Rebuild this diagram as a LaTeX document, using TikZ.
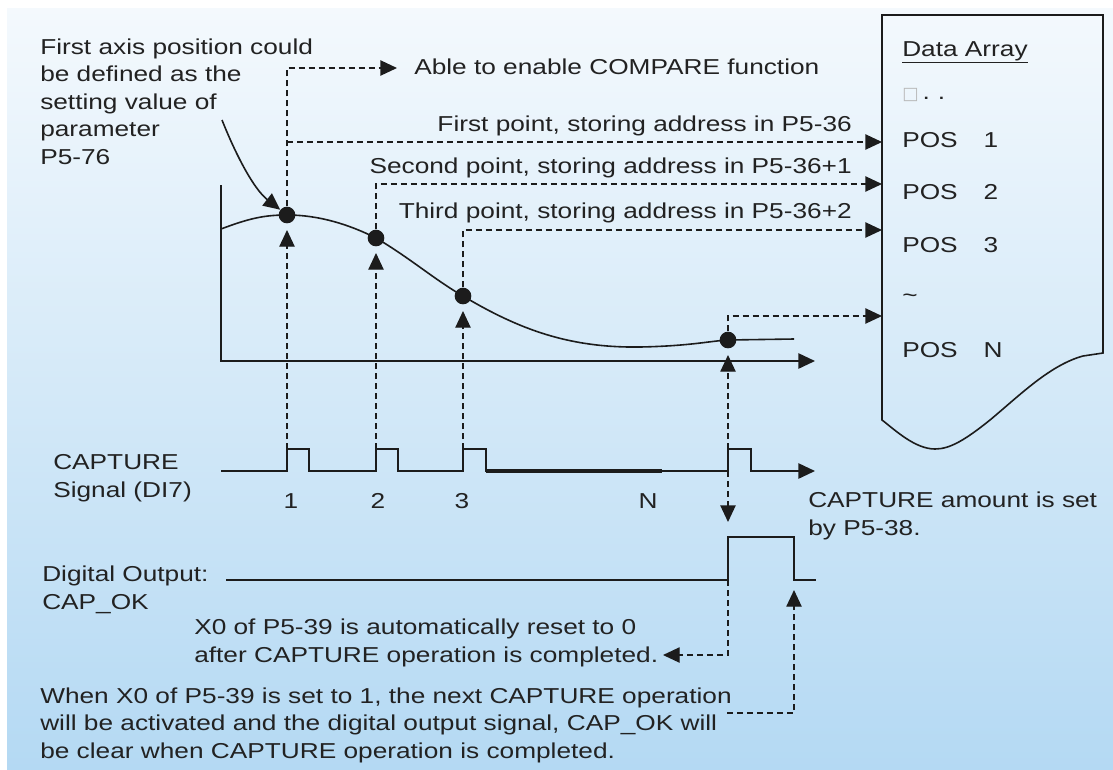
\documentclass[tikz,border=0pt]{standalone}
\usepackage{fontspec}
\setmainfont{Liberation Sans}[FakeStretch=1.215]
\newfontfamily\symf{DejaVu Sans}
\usetikzlibrary{arrows.meta}
\definecolor{ink}{RGB}{28,28,28}
\definecolor{txt}{RGB}{34,34,34}
\definecolor{bgtop}{RGB}{244,249,253}
\definecolor{bgbot}{RGB}{180,217,243}
\newcommand{\mytextsize}{\fontsize{16.2pt}{20.6pt}\selectfont}
\begin{document}
\begin{tikzpicture}[x=0.75pt,y=-0.75pt,
  lbl/.style={text=txt, inner sep=0pt, font=\mytextsize},
  solidline/.style={draw=ink, line width=1.2pt},
  dsh/.style={draw=ink, line width=1pt, dash pattern=on 4.5pt off 3pt},
  arr/.style={-{Triangle[length=12.5pt,width=11.5pt]}},
  dot/.style={circle, fill=ink, inner sep=0pt, minimum size=12.5pt}]
\useasboundingbox (0,0) rectangle (1113,769);
\fill[white] (0,0) rectangle (1113,769);
\shade[top color=bgtop, bottom color=bgbot] (7,8) rectangle (1113,769);

% ---------- texts (multi-line nodes: base = last line) ----------
\node[lbl, anchor=base west, align=left] (note1) at (40,164) {First axis position could\\be defined as the\\setting value of\\parameter\\P5-76};
\node[lbl, anchor=base west] (able) at (414,74) {Able to enable COMPARE function};
\node[lbl, anchor=base east] (fp) at (852,131) {First point, storing address in P5-36};
\node[lbl, anchor=base east] (sp) at (852,173) {Second point, storing address in P5-36+1};
\node[lbl, anchor=base east] (tp) at (852,218) {Third point, storing address in P5-36+2};

\node[lbl, anchor=base west] (da) at (902,56) {\underline{Data Array}};
\node[lbl, anchor=base west] (sq) at (902,99) {{\symf\fontsize{13pt}{13pt}\selectfont\color{gray!55}□}\hspace{3pt}.\hspace{6pt}.};
\node[lbl, anchor=base west] (pos1) at (902,147) {POS\hspace{19.5pt}1};
\node[lbl, anchor=base west] (pos2) at (902,199) {POS\hspace{19.5pt}2};
\node[lbl, anchor=base west] (pos3) at (902,252) {POS\hspace{19.5pt}3};
\node[lbl, anchor=base west] (tld) at (902,302) {\textasciitilde};
\node[lbl, anchor=base west] (posN) at (902,357) {POS\hspace{19.5pt}N};

\node[lbl, anchor=base west, align=left] (caplbl) at (53,497) {CAPTURE\\Signal (DI7)};
\node[lbl, anchor=base] (n1) at (291,508) {1};
\node[lbl, anchor=base] (n2) at (378,508) {2};
\node[lbl, anchor=base] (n3) at (462,508) {3};
\node[lbl, anchor=base] (nN) at (648,508) {N};
\node[lbl, anchor=base west, align=left] (amt) at (808,535) {CAPTURE amount is set\\by P5-38.};
\node[lbl, anchor=base west, align=left] (dolbl) at (42,609) {Digital Output:\\CAP\_OK};
\node[lbl, anchor=base west, align=left] (reset) at (194,662) {X0 of P5-39 is automatically reset to 0\\after CAPTURE operation is completed.};
\node[lbl, anchor=base west, align=left] (when) at (40,758) {When X0 of P5-39 is set to 1, the next CAPTURE operation\\will be activated and the digital output signal, CAP\_OK will\\be clear when CAPTURE operation is completed.};

% ---------- data array box ----------
\draw[solidline] (882,15) -- (1103,15) -- (1103,353) -- (1083,356)
  .. controls (1050,365) and (1020,395) .. (990,420)
  .. controls (965,440) and (950,449) .. (935,449)
  .. controls (915,449) and (895,430) .. (882,420) -- cycle;

% ---------- axes and curve ----------
\coordinate (ax0) at (221,185);
\coordinate (axO) at (221,361);
\coordinate (axX) at (815,361);
\draw[solidline, arr] (ax0) -- (axO) -- (axX);

\node[dot] (p1) at (287,215) {};
\node[dot] (p2) at (376,238) {};
\node[dot] (p3) at (463,296) {};
\node[dot] (pN) at (728,340) {};

\draw[solidline] (221,229) .. controls (250,218) and (265,215) .. (p1.center)
  .. controls (320,215) and (350,225) .. (p2.center)
  .. controls (410,258) and (435,280) .. (p3.center)
  .. controls (520,330) and (570,348) .. (640,347)
  .. controls (690,346) and (710,341) .. (pN.center) -- (794,339);

% pointer from the note
\coordinate (noteEnd) at (222,120);
\draw[solidline, arr] (noteEnd) .. controls (238,160) and (255,190) .. (p1);

% ---------- dashed connectors to the box ----------
\coordinate (cmp) at (397,68);
\coordinate (b1) at (287,142);
\coordinate (in1) at (882,142);
\coordinate (in2) at (882,184);
\coordinate (in3) at (882,230);
\coordinate (inN) at (882,316);
\draw[dsh, arr] (p1) |- (cmp);
\draw[dsh, arr] (b1) -- (in1);
\draw[dsh, arr] (p2) |- (in2);
\draw[dsh, arr] (p3) |- (in3);
\draw[dsh, arr] (pN) |- (inN);

% ---------- capture signal ----------
\coordinate (s0) at (221,471);
\coordinate (sEnd) at (815,471);
\draw[solidline, arr] (s0) -- (287,471) |- (309,449) |- (376,471) |- (398,449) |- (463,471)
  |- (486,449) |- (728,471) |- (751,449) |- (sEnd);
\draw[draw=ink, line width=2.3pt] (486,471) -- (662,471);

% pulse tops -> dots
\coordinate (pu1) at (287,449);
\coordinate (pu2) at (376,449);
\coordinate (pu3) at (463,449);
\coordinate (puN) at (728,449);
\coordinate (t1) at (287,230);
\coordinate (t2) at (376,253);
\coordinate (t3) at (463,311);
\coordinate (tN) at (728,355);
\draw[dsh, arr] (pu1) -- (t1);
\draw[dsh, arr] (pu2) -- (t2);
\draw[dsh, arr] (pu3) -- (t3);
\draw[dsh, arr] (puN) -- (tN);

% ---------- digital output ----------
\coordinate (d0) at (226,580);
\coordinate (doRise) at (728,580);
\coordinate (doFall) at (794,580);
\draw[solidline] (d0) -- (doRise) -- (728,537) -- (794,537) -- (doFall) -- (816,580);

\coordinate (pdN) at (728,471);
\coordinate (doTip) at (728,522);
\draw[dsh, arr] (pdN) -- (doTip);

\coordinate (resetTip) at (663,655);
\draw[dsh, arr] (doRise) |- (resetTip);

\coordinate (clrStart) at (727,713);
\coordinate (fallTip) at (794,590);
\draw[dsh, arr] (clrStart) -| (fallTip);
\end{tikzpicture}
\end{document}
